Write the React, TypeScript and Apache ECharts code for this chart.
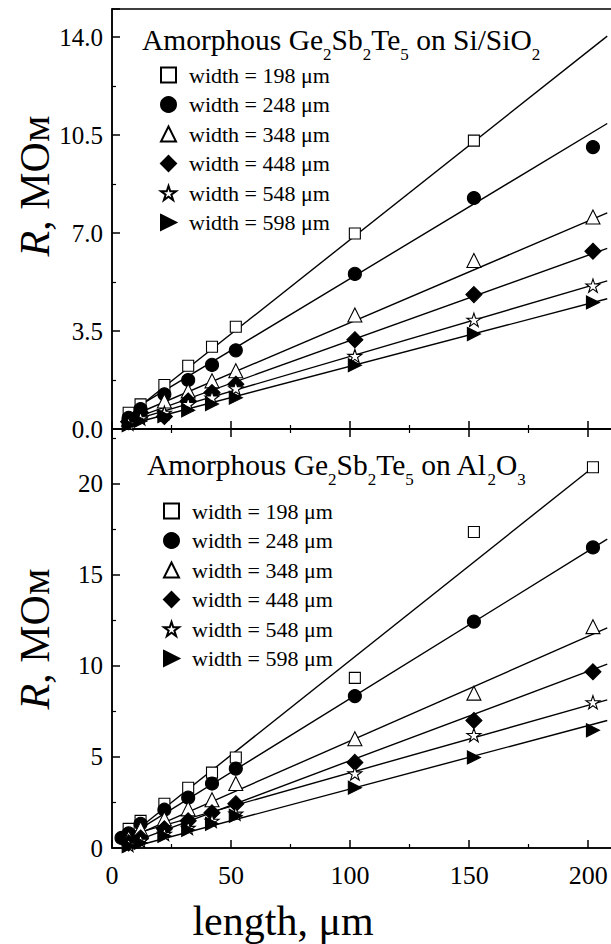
import React, { useEffect, useRef } from 'react';
import * as echarts from 'echarts';

// ---------- data ----------
const lengths = [7, 12, 22, 32, 42, 52, 102, 152, 202];
const lengthsBot248 = [4, 7, 12, 22, 32, 42, 52, 102, 152, 202];
const widthLabels = [
  'width = 198 μm',
  'width = 248 μm',
  'width = 348 μm',
  'width = 448 μm',
  'width = 548 μm',
  'width = 598 μm',
];

// Top panel: Si/SiO2 (R, MOhm)
const top198 = [0.58, 0.88, 1.57, 2.26, 2.94, 3.65, 6.98, 10.3, null];
const top248 = [0.4, 0.71, 1.24, 1.75, 2.29, 2.81, 5.54, 8.25, 10.07];
const top348 = [0.35, 0.64, 1.0, 1.36, 1.72, 2.08, 4.07, 6.02, 7.57];
const top448 = [0.26, 0.58, 0.45, 1.0, 1.3, 1.6, 3.19, 4.8, 6.35];
const top548 = [0.19, 0.38, 0.58, 0.89, 1.12, 1.45, 2.61, 3.9, 5.12];
const top598 = [0.14, 0.29, 0.46, 0.67, 0.89, 1.12, 2.28, 3.39, 4.52];

// Bottom panel: Al2O3 (R, MOhm)
const bot198 = [1.05, 1.49, 2.43, 3.31, 4.14, 4.97, 9.34, 17.35, 20.9];
const bot248 = [0.55, 0.8, 1.33, 2.1, 2.76, 3.54, 4.36, 8.34, 12.43, 16.5];
const bot348 = [0.55, 1.05, 1.6, 2.15, 2.65, 3.54, 6.0, 8.5, 12.15];
const bot448 = [0.28, 0.55, 1.05, 1.49, 1.93, 2.43, 4.7, 7.0, 9.67];
const bot548 = [0.17, 0.39, 0.77, 1.1, 1.49, 1.88, 4.09, 6.2, 8.0];
const bot598 = [0.11, 0.28, 0.66, 0.99, 1.33, 1.77, 3.31, 4.97, 6.46];

// Linear fit lines: x at both ends and values at those ends
const topFitX = [7, 208];
const topFitStart = [0.5, 0.6, 0.42, 0.32, 0.27, 0.16];
const topFitEnd = [14.03, 10.91, 7.72, 6.45, 5.29, 4.65];
const botFitXStart = [7, 7, 7, 7, 7, 7];
const botFitXEnd = [203, 208, 208, 208, 208, 208];
const botFitStart = [0.63, 0.67, 0.54, 0.24, 0.69, 0.0];
const botFitEnd = [21.0, 16.95, 12.08, 10.09, 8.13, 7.0];

// tick settings
const topYTicks = { min: 0, max: 15, interval: 3.5 };
const botYTicks = { min: 0, max: 23, interval: 5 };
const xTicks = { min: 0, max: 210, interval: 50 };

// ---------- styles ----------
const FONT = 'Liberation Serif';
const STAR =
  'path://M50,0 L61.2,34.5 L97.6,34.5 L68.2,55.9 L79.4,90.5 L50,69.1 L20.6,90.5 L31.8,55.9 L2.4,34.5 L38.8,34.5 Z';
const RTRI = 'path://M0,0 L100,50 L0,100 Z';
const symbolDefs = [
  { symbol: 'rect', size: 11, fill: '#fff' },
  { symbol: 'circle', size: 13, fill: '#000' },
  { symbol: 'triangle', size: 14, fill: '#fff' },
  { symbol: 'diamond', size: 16, fill: '#000' },
  { symbol: STAR, size: 14, fill: '#fff' },
  { symbol: RTRI, size: 13, fill: '#000' },
];

const topSeries = [top198, top248, top348, top448, top548, top598];
const botSeries = [bot198, bot248, bot348, bot448, bot548, bot598];

function pairs(xs: number[], ys: (number | null)[]) {
  const out: number[][] = [];
  ys.forEach((y, i) => {
    if (y !== null && y !== undefined) out.push([xs[i], y]);
  });
  return out;
}

const axisLine = { show: true, lineStyle: { color: '#000', width: 1.5 } };
const axisTick = { show: true, inside: true, length: 8, lineStyle: { color: '#000', width: 1.5 } };
const minorTick = { show: true, splitNumber: 2, length: 4, lineStyle: { color: '#000', width: 1.2 } };

function buildOption() {
  const series: any[] = [];
  symbolDefs.forEach((s, i) => {
    const itemStyle = { color: s.fill, borderColor: '#000', borderWidth: 1.1, opacity: 1 };
    series.push({
      type: 'scatter',
      name: widthLabels[i],
      xAxisIndex: 0,
      yAxisIndex: 0,
      symbol: s.symbol,
      symbolSize: s.size,
      symbolKeepAspect: true,
      itemStyle,
      data: pairs(lengths, topSeries[i]),
      z: 3,
    });
    series.push({
      type: 'line',
      xAxisIndex: 0,
      yAxisIndex: 0,
      symbol: 'none',
      silent: true,
      lineStyle: { color: '#000', width: 1.4 },
      data: [
        [topFitX[0], topFitStart[i]],
        [topFitX[1], topFitEnd[i]],
      ],
      z: 2,
    });
    series.push({
      type: 'scatter',
      name: widthLabels[i],
      xAxisIndex: 1,
      yAxisIndex: 1,
      symbol: s.symbol,
      symbolSize: s.size,
      symbolKeepAspect: true,
      itemStyle,
      data: pairs(i === 1 ? lengthsBot248 : lengths, botSeries[i]),
      z: 3,
    });
    series.push({
      type: 'line',
      xAxisIndex: 1,
      yAxisIndex: 1,
      symbol: 'none',
      silent: true,
      lineStyle: { color: '#000', width: 1.4 },
      data: [
        [botFitXStart[i], botFitStart[i]],
        [botFitXEnd[i], botFitEnd[i]],
      ],
      z: 2,
    });
  });

  const legendCommon = {
    orient: 'vertical',
    itemWidth: 15,
    itemHeight: 15,
    itemGap: 7.5,
    selectedMode: false,
    data: widthLabels,
    itemStyle: { opacity: 1 },
    textStyle: { fontFamily: FONT, fontSize: 22, color: '#000', lineHeight: 22, padding: [0, 0, 0, 8] },
  };

  const titleRich = {
    a: { fontFamily: FONT, fontSize: 29.5, lineHeight: 36, verticalAlign: 'top', fill: '#000', color: '#000' },
    s: { fontFamily: FONT, fontSize: 17, lineHeight: 17, verticalAlign: 'top', padding: [21, 0, 0, 0], fill: '#000', color: '#000' },
  };

  const yName = {
    a: { fontFamily: FONT, fontSize: 42, fontStyle: 'italic', fill: '#000', color: '#000' },
    b: { fontFamily: FONT, fontSize: 42, fill: '#000', color: '#000' },
  };

  return {
    animation: false,
    backgroundColor: '#fff',
    textStyle: { fontFamily: FONT },
    grid: [
      { left: 112, top: 9, width: 500, height: 420, show: true, borderColor: '#000', borderWidth: 1.5 },
      { left: 112, top: 429, width: 500, height: 419, show: true, borderColor: '#000', borderWidth: 1.5 },
    ],
    xAxis: [
      {
        type: 'value', gridIndex: 0, position: 'bottom', ...xTicks,
        axisLine, axisTick, minorTick, splitLine: { show: false }, axisLabel: { show: false },
      },
      {
        type: 'value', gridIndex: 1, position: 'bottom', ...xTicks,
        axisLine, axisTick, minorTick, splitLine: { show: false },
        axisLabel: { show: true, showMaxLabel: false, fontFamily: FONT, fontSize: 26, color: '#000', margin: 14 },
      },
      {
        type: 'value', gridIndex: 1, position: 'top', ...xTicks,
        axisLine, axisTick, minorTick, splitLine: { show: false }, axisLabel: { show: false },
      },
    ],
    yAxis: [
      {
        type: 'value', gridIndex: 0, ...topYTicks,
        axisLine, axisTick, minorTick, splitLine: { show: false },
        axisLabel: {
          showMaxLabel: false, fontFamily: FONT, fontSize: 25, color: '#000', margin: 9,
          formatter: (v: number) => v.toFixed(1),
        },
      },
      {
        type: 'value', gridIndex: 1, ...botYTicks,
        axisLine, axisTick, minorTick, splitLine: { show: false },
        axisLabel: { showMaxLabel: false, fontFamily: FONT, fontSize: 25, color: '#000', margin: 9 },
      },
    ],
    legend: [
      { ...legendCommon, left: 155, top: 59 },
      { ...legendCommon, left: 158, top: 495 },
    ],
    graphic: [
      {
        type: 'text', x: 142, y: 25, z: 10,
        style: {
          text: '{a|Amorphous Ge}{s|2}{a|Sb}{s|2}{a|Te}{s|5}{a| on Si/SiO}{s|2}',
          rich: titleRich, align: 'left', verticalAlign: 'top', fill: '#000',
        },
      },
      {
        type: 'text', x: 147, y: 450, z: 10,
        style: {
          text: '{a|Amorphous Ge}{s|2}{a|Sb}{s|2}{a|Te}{s|5}{a| on Al}{s|2}{a|O}{s|3}',
          rich: titleRich, align: 'left', verticalAlign: 'top', fill: '#000',
        },
      },
      {
        type: 'text', x: 35, y: 186, rotation: Math.PI / 2, z: 10,
        style: { text: '{a|R}{b|, МОм}', rich: yName, align: 'center', verticalAlign: 'middle', fill: '#000' },
      },
      {
        type: 'text', x: 35, y: 639, rotation: Math.PI / 2, z: 10,
        style: { text: '{a|R}{b|, МОм}', rich: yName, align: 'center', verticalAlign: 'middle', fill: '#000' },
      },
      {
        type: 'text', x: 283, y: 921, z: 10,
        style: { text: 'length, μm', fontFamily: FONT, fontSize: 42, align: 'center', verticalAlign: 'middle', fill: '#000' },
      },
    ],
    series,
  };
}

export default function App() {
  const ref = useRef<HTMLDivElement>(null);
  useEffect(() => {
    const chart = echarts.init(ref.current as HTMLDivElement, null, { renderer: 'svg' });
    chart.setOption(buildOption() as any);
    return () => chart.dispose();
  }, []);
  return (
    <div style={{ position: 'fixed', left: 0, top: 0, width: 611, height: 944, overflow: 'hidden', background: '#fff' }}>
      <div ref={ref} style={{ width: 620, height: 944 }} />
    </div>
  );
}
